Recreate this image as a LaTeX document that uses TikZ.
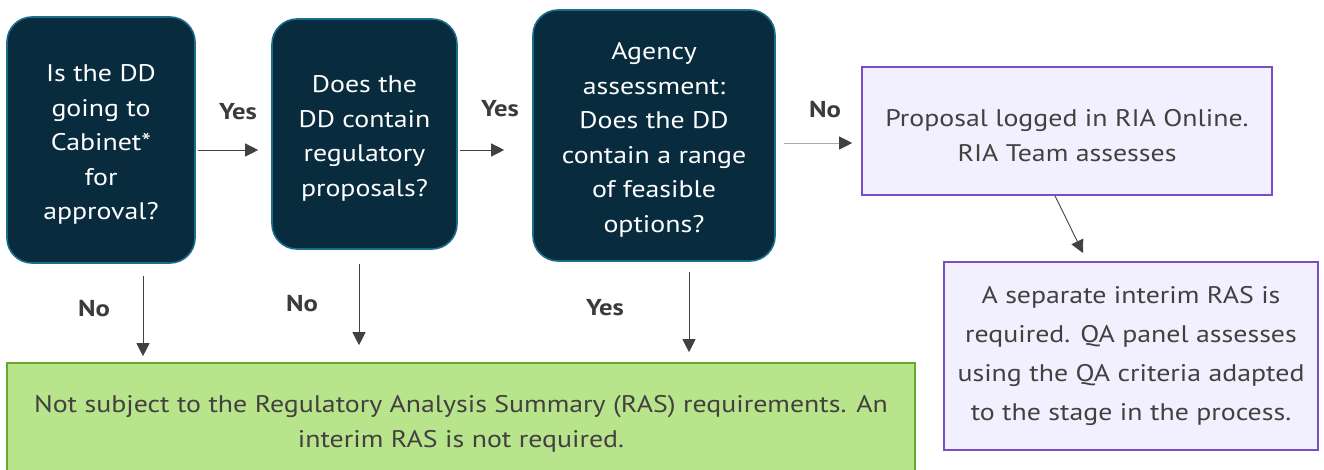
\documentclass[tikz,border=0pt]{standalone}
\usepackage{fontspec}
\setmainfont{PT Sans}[FakeStretch=1.16]
\usetikzlibrary{arrows.meta}

\definecolor{qfill}{HTML}{082B3D}
\definecolor{qedge}{HTML}{1C6C8C}
\definecolor{pfill}{HTML}{F2F0FE}
\definecolor{pedge}{HTML}{7A4CC8}
\definecolor{gfill}{HTML}{B8E48C}
\definecolor{gedge}{HTML}{6AA52F}
\definecolor{ink}{HTML}{444040}
\definecolor{lbl}{HTML}{3D3A3A}

% taller first line, so each text block sits a little lower in its box
\newcommand{\lift}{\rule{0pt}{26pt}}

\tikzset{
  question/.style={draw=qedge, fill=qfill, line width=1.6pt, rounded corners=25pt,
    text=white, align=center, inner sep=0pt,
    font=\fontsize{24}{34.5}\selectfont},
  outcome/.style={draw=pedge, fill=pfill, line width=1.6pt,
    text=ink, align=center, inner sep=0pt},
  exempt/.style={draw=gedge, fill=gfill, line width=1.6pt,
    text=ink, align=center, inner sep=0pt,
    font=\fontsize{24}{35}\selectfont},
  flow/.style={draw=ink, line width=0.9pt, -{Triangle[length=13pt,width=13pt,color=ink]}},
  answer/.style={text=lbl, font=\fontsize{23}{26}\selectfont\bfseries}
}

\begin{document}
\begin{tikzpicture}[x=1pt,y=-1pt]
\useasboundingbox (0,0) rectangle (1324,470);

% decision boxes
\node[question, minimum width=188pt, minimum height=246pt] (q1) at (101,140)
  {\lift Is the DD\\going to\\Cabinet*\\for\\approval?};
\node[question, minimum width=185pt, minimum height=230pt] (q2) at (364.5,134)
  {\lift Does the\\DD contain\\regulatory\\proposals?};
\node[question, minimum width=242pt, minimum height=251pt] (q3) at (654,135.5)
  {\lift Agency\\assessment:\\Does the DD\\contain a range\\of feasible\\options?};

% outcome boxes
\node[outcome, minimum width=410pt, minimum height=128pt,
      font=\fontsize{24}{35}\selectfont] (prop) at (1067,131)
  {\lift Proposal logged in RIA Online.\\RIA Team assesses};
\node[outcome, minimum width=374pt, minimum height=188pt,
      font=\fontsize{24}{39}\selectfont] (interim) at (1131,356)
  {A separate interim RAS is\\required. QA panel assesses\\using the QA criteria adapted\\to the stage in the process.};
\node[exempt, minimum width=908pt, minimum height=112pt] (none) at (461,419)
  {\lift Not subject to the Regulatory Analysis Summary (RAS) requirements. An\\interim RAS is not required.};

% connectors
\draw[flow, shorten <=2pt, shorten >=13pt] (q1.east |- 0,150) -- (q2.west |- 0,150);
\draw[flow, shorten <=2pt, shorten >=28pt] (q2.east |- 0,150) -- (q3.west |- 0,150);
\draw[flow, draw=ink!45, line width=0.8pt, shorten <=8pt, shorten >=9pt]
  (q3.east |- 0,143) -- (prop.west |- 0,143);
\draw[flow, shorten <=12pt, shorten >=6pt] (q1.south -| 143,0) -- (none.north -| 143,0);
\draw[flow, shorten <=14pt, shorten >=17pt] (q2.south -| 359,0) -- (none.north -| 359,0);
\draw[flow, shorten <=10pt, shorten >=10pt] (q3.south -| 689,0) -- (none.north -| 689,0);
\draw[flow, shorten >=9pt] (prop.south -| 1055,0) -- (interim.north -| 1087,0);

% branch labels
\node[answer] (y1) at (238,112) {Yes};
\node[answer] (y2) at (500,109) {Yes};
\node[answer] (n3) at (825,110) {No};
\node[answer] (n1) at (94,309) {No};
\node[answer] (n2) at (302,304) {No};
\node[answer] (y3) at (605,308) {Yes};
\end{tikzpicture}
\end{document}
